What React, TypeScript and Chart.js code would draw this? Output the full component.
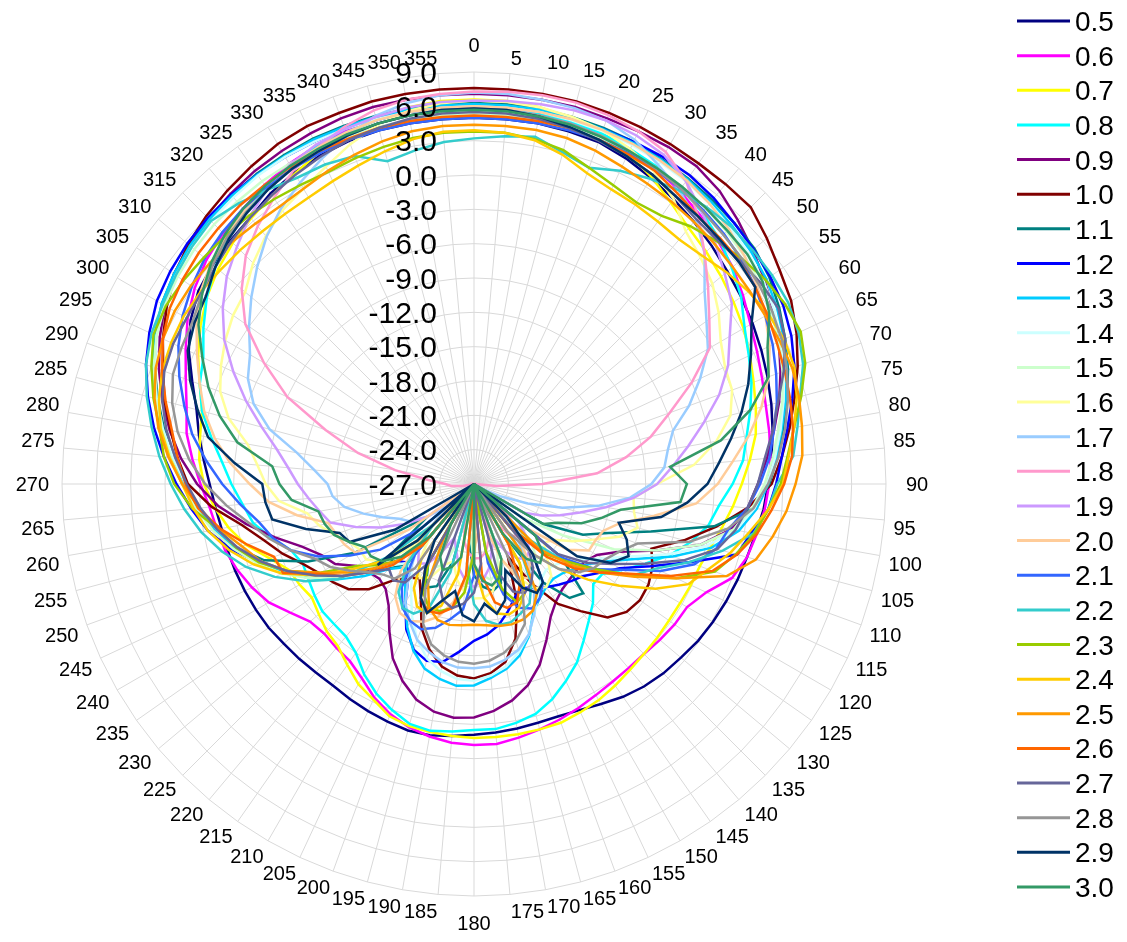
import React, { useEffect, useRef } from 'react';
import { Chart, registerables } from 'chart.js';

Chart.register(...registerables);

const angleLabels = ['0','5','10','15','20','25','30','35','40','45','50','55','60','65','70','75','80','85','90','95','100','105','110','115','120','125','130','135','140','145','150','155','160','165','170','175','180','185','190','195','200','205','210','215','220','225','230','235','240','245','250','255','260','265','270','275','280','285','290','295','300','305','310','315','320','325','330','335','340','345','350','355'];

const tickValues = [-27, -24, -21, -18, -15, -12, -9, -6, -3, 0, 3, 6, 9];

const seriesNames = ['0.5','0.6','0.7','0.8','0.9','1.0','1.1','1.2','1.3','1.4','1.5','1.6','1.7','1.8','1.9','2.0','2.1','2.2','2.3','2.4','2.5','2.6','2.7','2.8','2.9','3.0'];

const seriesColors = ['#000080','#FF00FF','#FFFF00','#00FFFF','#800080','#800000','#008080','#0000FF','#00CCFF','#CCFFFF','#CCFFCC','#FFFF99','#99CCFF','#FF99CC','#CC99FF','#FFCC99','#3366FF','#33CCCC','#99CC00','#FFCC00','#FF9900','#FF6600','#666699','#969696','#003366','#339966'];

const s05 = [5.0,5.0,5.0,4.9,4.8,4.4,3.9,3.4,2.9,2.4,1.9,1.5,
 1.1,0.7,0.3,-0.1,-0.5,-0.9,-1.3,-1.6,-2.0,-2.3,-2.5,-2.7,
 -2.9,-3.1,-3.4,-3.6,-3.9,-4.3,-4.8,-5.2,-5.4,-5.4,-5.3,-5.2,
 -5.1,-4.9,-4.7,-4.7,-4.9,-5.1,-5.3,-5.5,-5.5,-5.4,-5.3,-5.1,
 -5.0,-4.9,-4.8,-4.7,-4.6,-4.3,-3.9,-3.3,-2.6,-1.9,-0.8,0.5,
 1.6,2.4,2.8,3.1,3.4,4.0,4.4,4.7,4.9,5.0,5.0,5.0];
const s06 = [6.0,6.0,5.9,5.8,5.6,5.2,4.8,4.3,3.7,3.1,2.5,1.7,
 0.9,0.3,-0.2,-0.6,-0.8,-1.0,-1.2,-1.5,-1.9,-2.3,-3.0,-4.6,
 -5.5,-5.6,-5.8,-6.0,-6.0,-5.9,-5.7,-5.4,-5.1,-4.8,-4.5,-4.2,
 -4.2,-4.3,-4.6,-5.0,-5.6,-6.4,-7.4,-8.1,-8.3,-8.5,-8.3,-7.4,
 -6.3,-5.6,-5.0,-4.5,-4.2,-3.8,-3.1,-2.3,-1.5,-1.0,-0.2,0.8,
 1.9,2.8,3.5,4.0,4.4,4.9,5.3,5.6,5.8,5.9,6.0,6.0];
const s07 = [6.6,6.6,6.4,6.1,5.6,4.9,4.0,3.0,2.2,1.7,1.2,0.7,
 0.2,-0.4,-1.0,-1.5,-2.0,-2.8,-3.6,-4.3,-5.0,-5.6,-6.0,-6.1,
 -6.2,-6.2,-6.1,-6.0,-5.8,-5.5,-5.2,-5.0,-4.8,-4.8,-4.8,-4.8,
 -4.8,-4.9,-5.0,-5.1,-5.4,-6.2,-6.8,-7.7,-8.5,-8.8,-9.3,-9.7,
 -9.4,-9.2,-8.0,-6.4,-5.2,-4.2,-3.4,-2.9,-2.7,-2.4,-1.5,-0.4,
 0.6,1.5,2.2,2.8,3.3,3.8,4.3,5.0,5.6,6.1,6.4,6.6];
const s08 = [6.0,6.0,5.9,5.8,5.6,5.3,5.0,4.6,4.0,3.3,2.4,1.5,
 0.3,-0.5,-1.2,-2.0,-2.8,-3.4,-4.4,-5.5,-6.2,-7.4,-8.8,-10.5,
 -12.0,-13.3,-13.4,-12.3,-11.4,-10.3,-9.0,-8.0,-7.0,-6.2,-5.8,-5.5,
 -5.5,-5.3,-5.1,-5.3,-6.0,-6.8,-7.8,-9.0,-9.6,-9.7,-9.7,-10.0,
 -10.3,-10.5,-10.0,-8.7,-7.4,-6.7,-5.8,-4.9,-3.7,-2.4,-1.5,-0.9,
 0.3,1.5,2.5,3.4,4.0,4.6,5.1,5.5,5.7,5.9,6.0,6.0];
const s09 = [7.1,7.1,7.1,7.1,7.0,7.0,7.0,6.9,6.4,5.6,4.8,4.0,
 3.2,2.4,1.5,0.6,-0.4,-1.3,-2.2,-3.0,-4.2,-6.5,-10.0,-13.0,
 -14.6,-15.2,-15.3,-15.2,-15.0,-14.5,-13.6,-12.0,-10.2,-8.8,-7.8,-7.1,
 -6.6,-6.5,-6.8,-7.5,-8.7,-10.2,-12.2,-14.0,-15.0,-15.3,-15.0,-14.5,
 -13.0,-12.3,-11.0,-9.0,-6.8,-4.6,-2.8,-1.3,0.0,1.2,2.3,3.3,
 4.2,5.0,5.5,5.8,6.1,6.4,6.6,6.8,7.0,7.1,7.1,7.1];
const s10 = [7.6,7.6,7.6,7.6,7.5,7.4,7.3,7.2,7.2,7.2,6.4,5.6,
 5.0,4.1,3.1,2.0,1.0,0.0,-1.0,-3.0,-5.5,-8.0,-10.5,-9.8,
 -9.4,-9.3,-9.6,-10.5,-12.5,-14.2,-17.0,-20.0,-16.0,-13.0,-11.2,-10.4,
 -10.0,-10.2,-10.8,-12.0,-13.6,-16.0,-17.5,-17.0,-16.0,-14.0,-12.7,-12.0,
 -11.4,-10.5,-9.2,-8.0,-6.4,-4.0,-2.0,-1.0,-0.1,1.0,1.9,3.0,
 4.0,4.9,5.6,6.1,6.5,6.9,7.3,7.5,7.5,7.6,7.6,7.6];
const s11 = [6.3,6.3,6.3,6.2,6.1,6.0,5.8,5.6,5.4,5.2,5.0,4.5,
 3.8,3.0,2.2,1.3,0.4,-0.4,-1.2,-2.5,-5.7,-11.0,-14.5,-16.5,
 -20.0,-27.0,-17.0,-13.5,-14.0,-16.5,-22.0,-27.0,-20.0,-18.0,-17.5,-18.0,
 -19.0,-22.0,-27.0,-20.0,-17.5,-17.0,-19.0,-27.0,-18.0,-16.5,-18.0,-22.0,
 -15.0,-11.0,-7.5,-5.5,-4.0,-2.8,-1.6,-0.6,0.5,1.6,2.7,3.7,
 4.5,5.0,5.4,5.7,5.9,6.1,6.2,6.3,6.3,6.3,6.3,6.3];
const s12 = [6.0,6.0,6.0,6.0,6.0,6.0,6.0,5.9,5.6,5.2,4.9,4.6,
 4.2,3.6,2.8,1.8,0.8,0.0,-0.6,-1.2,-2.4,-3.2,-7.0,-10.0,
 -12.3,-13.5,-14.5,-15.0,-15.5,-16.0,-16.5,-17.0,-16.5,-15.5,-14.5,-13.8,
 -13.3,-12.3,-11.2,-11.0,-11.6,-13.0,-15.0,-17.0,-18.0,-17.5,-15.5,-13.0,
 -10.9,-9.0,-7.0,-5.0,-3.4,-2.2,-1.0,0.2,1.4,2.5,3.5,4.3,
 5.0,5.4,5.7,5.9,6.0,6.0,6.0,6.0,6.0,6.0,6.0,6.0];
const s13 = [6.2,6.2,6.2,6.1,6.0,5.9,5.7,5.5,5.2,4.9,4.6,4.2,
 3.6,2.9,2.1,1.2,0.3,-0.5,-1.3,-2.2,-3.5,-5.5,-8.5,-11.5,
 -13.5,-14.8,-15.5,-16.0,-16.2,-16.0,-15.5,-14.7,-12.9,-11.5,-10.6,-10.0,
 -9.4,-9.3,-9.7,-10.3,-11.5,-13.2,-15.0,-16.5,-17.5,-16.5,-14.5,-12.5,
 -10.5,-8.8,-7.0,-5.4,-4.0,-2.8,-1.6,-0.4,0.8,1.9,2.9,3.8,
 4.5,5.0,5.4,5.7,5.9,6.0,6.1,6.2,6.2,6.2,6.2,6.2];
const s14 = [6.0,6.0,6.0,5.9,5.8,5.7,5.5,5.3,5.0,4.7,4.3,3.9,
 3.3,2.6,1.8,1.0,0.2,-0.6,-1.4,-2.4,-3.8,-6.0,-9.0,-12.0,
 -14.0,-15.5,-16.5,-17.0,-17.2,-16.8,-15.8,-14.5,-13.0,-11.8,-10.8,-10.2,
 -9.8,-9.9,-10.4,-11.2,-12.5,-14.2,-16.0,-17.5,-18.0,-17.0,-15.0,-12.8,
 -10.8,-9.0,-7.2,-5.6,-4.2,-3.0,-1.8,-0.6,0.6,1.7,2.7,3.6,
 4.3,4.8,5.2,5.5,5.7,5.9,6.0,6.0,6.0,6.0,6.0,6.0];
const s15 = [5.3,5.3,5.3,5.2,5.1,5.0,4.9,4.7,4.5,4.2,3.9,3.5,
 3.0,2.4,1.7,0.9,0.0,-0.8,-1.6,-2.6,-4.0,-6.5,-10.0,-13.5,
 -18.0,-22.0,-27.0,-20.0,-18.5,-19.0,-22.0,-27.0,-21.0,-19.0,-18.5,-19.0,
 -20.0,-23.0,-27.0,-22.0,-19.5,-19.0,-21.0,-25.0,-27.0,-20.0,-16.0,-13.0,
 -10.5,-8.5,-6.8,-5.2,-3.8,-2.6,-1.5,-0.4,0.7,1.8,2.8,3.6,
 4.2,4.6,4.9,5.1,5.2,5.3,5.3,5.3,5.3,5.3,5.3,5.3];
const s16 = [6.5,6.5,6.4,6.2,5.9,5.3,4.5,3.4,1.8,1.0,0.2,-0.9,
 -2.1,-2.8,-3.0,-3.8,-5.5,-7.7,-11.0,-13.0,-12.8,-12.2,-13.5,-15.5,
 -17.0,-18.5,-19.0,-18.0,-16.5,-16.0,-16.5,-18.0,-20.0,-19.0,-17.5,-17.0,
 -17.0,-17.5,-18.5,-20.0,-19.5,-18.0,-17.5,-18.5,-21.0,-19.0,-16.5,-15.5,
 -15.5,-15.0,-14.0,-13.0,-12.2,-9.9,-8.8,-8.0,-6.9,-4.8,-3.4,-2.6,
 -1.9,-1.3,-0.9,0.3,1.3,2.2,2.8,3.6,4.6,5.5,6.1,6.4];
const s17 = [7.2,7.2,7.1,7.0,6.8,6.2,5.2,4.3,3.2,1.5,-0.7,-2.2,
 -3.4,-5.2,-7.0,-9.0,-9.8,-10.3,-11.5,-13.3,-16.0,-19.0,-22.0,-24.5,
 -26.0,-27.0,-26.0,-24.0,-21.5,-19.0,-16.5,-14.5,-13.0,-12.0,-11.4,-11.0,
 -10.9,-10.9,-11.2,-11.8,-12.5,-13.7,-15.0,-17.0,-19.0,-21.5,-24.0,-22.0,
 -20.5,-19.8,-18.5,-17.0,-15.5,-14.6,-14.2,-13.0,-11.3,-8.5,-6.5,-5.2,
 -4.4,-3.0,-1.6,-0.2,1.2,2.4,3.4,4.4,5.4,6.3,6.8,7.1];
const s18 = [7.3,7.4,7.5,7.5,7.3,7.0,6.5,5.3,3.5,1.5,-0.3,-1.9,
 -3.2,-6.0,-8.8,-11.0,-13.5,-16.2,-21.0,-25.0,-27.0,-27.0,-27.0,-27.0,
 -27.0,-26.0,-24.0,-22.0,-21.0,-21.5,-23.0,-25.0,-24.0,-22.0,-21.0,-20.5,
 -20.5,-21.0,-22.0,-24.0,-26.0,-27.0,-26.0,-25.0,-26.0,-27.0,-27.0,-27.0,
 -27.0,-27.0,-27.0,-27.0,-26.0,-25.0,-24.5,-23.0,-20.0,-16.5,-13.2,-9.0,
 -5.8,-2.6,-0.5,1.2,2.4,3.5,4.6,5.4,6.2,6.8,7.1,7.2];
const s19 = [6.5,6.6,6.7,6.8,6.8,6.6,6.2,5.3,4.0,2.8,1.6,0.5,
 -1.2,-2.5,-4.2,-6.2,-8.0,-9.6,-11.0,-13.0,-15.3,-17.4,-19.0,-20.5,
 -22.0,-27.0,-22.0,-20.5,-19.5,-19.0,-19.5,-20.5,-22.0,-21.0,-19.5,-18.5,
 -18.0,-18.5,-19.5,-21.0,-22.0,-20.5,-19.0,-18.5,-19.5,-21.5,-27.0,-22.0,
 -20.0,-18.0,-16.0,-14.0,-13.3,-12.5,-11.6,-10.7,-9.5,-7.8,-5.8,-3.8,
 -1.8,-0.2,1.2,2.3,3.5,4.5,5.2,5.7,6.0,6.2,6.4,6.5];
const s20 = [6.0,6.0,6.0,6.0,5.9,5.8,5.6,5.4,5.0,4.5,3.9,3.2,
 2.4,1.5,0.4,-1.0,-2.6,-4.3,-5.7,-7.5,-11.0,-13.8,-15.0,-15.3,
 -15.4,-17.0,-21.0,-27.0,-21.0,-18.5,-17.5,-18.0,-20.0,-23.0,-27.0,-23.0,
 -21.0,-18.5,-16.5,-15.0,-14.2,-13.8,-14.0,-15.0,-17.0,-21.0,-27.0,-20.0,
 -15.0,-14.5,-14.2,-13.8,-11.3,-9.0,-7.4,-5.6,-4.0,-2.6,-1.5,-0.3,
 1.0,2.2,3.0,3.6,4.2,4.7,5.1,5.4,5.7,5.9,6.0,6.0];
const s21 = [5.0,5.0,5.0,5.0,5.0,4.9,4.7,4.5,4.2,3.9,3.5,3.0,
 2.4,1.8,1.1,0.4,-0.4,-1.1,-2.0,-3.0,-4.4,-5.1,-6.5,-9.0,
 -12.0,-14.0,-17.0,-27.0,-19.0,-16.5,-15.5,-15.0,-15.5,-17.0,-20.0,-27.0,
 -19.0,-16.0,-15.0,-14.0,-13.5,-13.8,-14.5,-16.0,-19.0,-27.0,-21.0,-17.0,
 -14.5,-12.0,-10.0,-8.8,-7.9,-6.5,-5.0,-3.5,-2.0,-0.8,0.4,1.5,
 2.4,3.1,3.7,4.1,4.4,4.6,4.8,4.9,5.0,5.0,5.0,5.0];
const s22 = [3.2,3.5,3.8,3.0,2.4,3.2,3.8,4.3,4.6,4.8,4.8,4.8,
 4.7,4.3,3.6,2.5,1.7,1.0,-0.5,-1.2,-2.2,-4.5,-7.0,-9.5,
 -11.0,-13.5,-16.0,-20.0,-27.0,-20.0,-17.0,-15.5,-15.0,-14.5,-14.5,-15.0,
 -16.5,-20.0,-27.0,-19.0,-15.5,-14.5,-14.5,-15.5,-18.0,-22.0,-17.0,-12.5,
 -10.0,-7.8,-5.8,-4.2,-2.8,-1.6,-0.5,0.6,1.6,2.6,3.5,4.1,
 4.4,4.8,5.2,5.5,5.0,4.4,3.9,3.8,3.5,2.2,2.6,3.0];
const s23 = [3.8,3.8,3.6,3.2,2.4,1.8,1.4,1.6,2.4,3.0,3.6,4.1,
 4.4,4.5,3.8,2.6,1.4,0.5,-0.2,-1.2,-2.1,-3.3,-4.6,-7.5,
 -11.0,-14.0,-16.5,-18.5,-22.0,-27.0,-19.0,-16.5,-16.0,-17.5,-21.0,-27.0,
 -21.0,-17.5,-16.0,-15.5,-15.5,-16.5,-19.0,-27.0,-20.0,-17.5,-16.0,-14.5,
 -11.5,-9.0,-7.0,-5.5,-4.3,-2.3,-0.8,0.2,0.9,2.0,3.0,3.9,
 4.1,4.0,3.8,3.7,3.6,3.4,3.2,3.1,3.3,3.5,3.7,3.8];
const s24 = [3.9,3.8,3.5,2.8,1.9,1.4,1.2,1.0,0.9,1.2,1.8,2.3,
 2.7,2.9,2.8,2.2,1.4,0.6,0.0,-1.2,-2.6,-3.8,-5.2,-6.3,
 -8.7,-11.5,-14.0,-16.5,-19.0,-27.0,-19.0,-16.5,-15.5,-15.2,-15.5,-17.0,
 -20.0,-27.0,-19.0,-16.0,-15.0,-15.2,-16.5,-19.0,-27.0,-20.0,-16.5,-14.0,
 -11.0,-8.5,-6.5,-4.8,-3.4,-2.4,-1.5,-0.3,0.8,1.5,2.0,2.2,
 2.3,2.2,2.0,1.9,1.8,1.8,1.9,2.2,2.6,3.1,3.6,3.9];
const s25 = [4.4,4.4,4.4,4.3,4.0,3.6,3.3,3.1,2.9,2.7,2.5,2.4,
 2.4,2.5,2.6,2.4,2.1,1.8,1.1,0.4,-0.5,-1.5,-3.5,-7.5,
 -10.8,-13.5,-16.0,-19.0,-27.0,-20.0,-16.0,-14.8,-14.4,-14.3,-14.4,-14.6,
 -14.7,-14.6,-14.5,-14.7,-15.5,-17.5,-22.0,-27.0,-21.0,-17.5,-15.5,-13.5,
 -11.5,-9.0,-7.2,-6.0,-4.4,-2.9,-1.5,-0.2,1.0,1.9,2.6,3.0,
 3.2,3.2,3.1,2.9,2.7,2.6,2.8,3.2,3.6,4.0,4.3,4.4];
const s26 = [5.2,5.2,5.2,5.2,5.0,4.8,4.6,4.0,3.5,3.4,3.3,3.0,
 2.6,2.2,1.9,1.6,1.3,0.9,0.1,-0.9,-1.9,-3.2,-4.8,-8.0,
 -11.3,-13.5,-15.5,-18.0,-22.0,-27.0,-21.0,-17.5,-16.0,-15.8,-16.5,-19.0,
 -27.0,-19.0,-16.0,-15.3,-15.2,-16.0,-18.5,-27.0,-20.0,-17.0,-15.0,-13.0,
 -11.3,-8.6,-8.4,-6.5,-4.5,-2.8,-1.8,-1.0,-0.2,0.9,2.0,3.0,
 3.7,4.1,4.4,4.6,4.8,4.9,5.0,5.1,5.1,5.2,5.2,5.2];
const s27 = [5.5,5.5,5.4,5.2,4.9,4.6,4.2,3.7,3.2,3.1,3.3,3.6,
 3.7,3.0,1.8,0.5,-0.5,-1.5,-2.2,-3.0,-3.8,-5.0,-7.5,-10.5,
 -13.0,-15.0,-17.5,-27.0,-19.5,-18.0,-17.0,-16.5,-17.0,-19.0,-27.0,-20.0,
 -17.5,-16.5,-16.0,-16.5,-18.0,-27.0,-19.0,-16.5,-16.0,-16.5,-15.0,-13.0,
 -11.0,-9.0,-7.2,-5.6,-4.2,-3.0,-1.9,-0.8,0.3,1.2,1.8,2.0,
 2.0,2.1,2.5,3.0,3.4,3.8,4.2,4.6,5.0,5.2,5.4,5.5];
const s28 = [5.8,5.8,5.7,5.6,5.4,5.1,4.8,4.5,4.1,3.8,3.6,3.4,
 3.1,2.7,2.1,1.4,0.6,-0.3,-1.3,-2.5,-4.5,-7.5,-11.8,-13.0,
 -13.8,-14.2,-15.0,-16.5,-19.0,-22.0,-27.0,-17.0,-14.0,-12.8,-12.0,-11.5,
 -11.3,-11.4,-11.8,-12.5,-14.0,-17.0,-27.0,-18.0,-16.2,-15.8,-15.0,-13.8,
 -12.5,-11.6,-10.0,-8.5,-7.1,-5.3,-3.5,-2.0,-0.7,0.3,1.0,1.2,
 1.4,2.0,2.8,3.5,4.0,4.4,4.8,5.1,5.4,5.6,5.7,5.8];
const s29 = [5.8,5.8,5.6,5.3,5.0,4.6,4.2,3.7,3.5,3.3,3.2,3.0,
 1.0,-0.3,-1.5,-2.8,-4.2,-5.5,-6.6,-8.3,-10.4,-13.9,-12.8,-12.1,
 -13.2,-16.0,-27.0,-23.0,-19.0,-16.5,-16.0,-17.0,-19.0,-16.5,-15.5,-16.5,
 -15.0,-15.5,-17.5,-16.5,-15.0,-16.0,-18.5,-21.0,-27.0,-20.0,-16.0,-27.0,
 -19.0,-15.0,-14.5,-11.8,-9.1,-8.7,-8.5,-6.0,-3.4,-2.0,-0.6,0.6,
 1.2,1.6,2.5,3.3,3.9,4.4,4.8,5.1,5.4,5.6,5.7,5.8];
const s30 = [5.7,5.7,5.6,5.5,5.3,5.1,4.9,4.7,4.5,4.3,4.2,3.8,
 2.8,1.3,0.4,-2.0,-5.1,-9.8,-8.4,-8.9,-14.0,-15.5,-17.0,-19.0,
 -20.0,-27.0,-20.0,-18.5,-18.0,-19.0,-22.0,-27.0,-20.0,-18.5,-18.0,-18.5,
 -20.0,-27.0,-20.5,-19.5,-19.0,-20.0,-23.0,-27.0,-21.0,-18.0,-16.5,-16.0,
 -16.0,-15.0,-14.0,-13.5,-13.2,-11.0,-10.0,-9.3,-6.0,-4.0,-2.3,-0.8,
 0.8,2.0,3.0,3.8,4.4,4.8,5.1,5.3,5.5,5.6,5.7,5.7];

const seriesValues = [s05, s06, s07, s08, s09, s10, s11, s12, s13, s14, s15, s16, s17, s18, s19, s20, s21, s22, s23, s24, s25, s26, s27, s28, s29, s30];

const FONT = '"Liberation Sans", Arial, Helvetica, sans-serif';

const overlayPlugin = {
  id: 'overlayText',
  afterDraw(chart: any) {
    const ctx = chart.ctx;
    const scale = chart.scales.r;
    ctx.save();
    ctx.fillStyle = '#000000';

    // angle (category) labels around the circle, anchored like Excel
    const plSize = 20;
    const capH = plSize * 0.716;
    ctx.font = `${plSize}px ${FONT}`;
    ctx.textBaseline = 'alphabetic';
    angleLabels.forEach((lab, i) => {
      const deg = Math.round((scale.getIndexAngle(i) * 180) / Math.PI) % 360;
      const onAxis = deg % 90 === 0;
      const dist = scale.drawingArea + (onAxis ? (deg === 270 ? 13 : 20) : 9);
      const p = scale.getPointPosition(i, dist);
      let align: CanvasTextAlign = 'left';
      if (deg === 0 || deg === 180) align = 'center';
      else if (deg > 180) align = 'right';
      ctx.textAlign = align;
      let baseY;
      if (deg === 90 || deg === 270) baseY = p.y + capH / 2;
      else if (deg < 90 || deg > 270) baseY = p.y;
      else baseY = p.y + capH;
      ctx.fillText(lab, p.x, baseY);
    });

    // value tick labels, left of the vertical axis
    const tkSize = 30;
    ctx.font = `${tkSize}px ${FONT}`;
    ctx.textAlign = 'right';
    tickValues.forEach((v) => {
      const y = scale.yCenter - scale.getDistanceFromCenterForValue(v);
      ctx.fillText(v.toFixed(1), scale.xCenter - 37, y + tkSize * 0.358);
    });

    // legend
    const lgSize = 28;
    ctx.font = `${lgSize}px ${FONT}`;
    ctx.textAlign = 'left';
    seriesNames.forEach((name, i) => {
      const y = 21 + i * 34.64;
      ctx.strokeStyle = seriesColors[i];
      ctx.lineWidth = 3;
      ctx.beginPath();
      ctx.moveTo(1017, y);
      ctx.lineTo(1070, y);
      ctx.stroke();
      ctx.fillStyle = '#000000';
      ctx.fillText(name, 1075, y + lgSize * 0.358);
    });
    ctx.restore();
  },
};

export default function App() {
  const canvasRef = useRef<HTMLCanvasElement | null>(null);

  useEffect(() => {
    if (!canvasRef.current) return;
    const n = seriesNames.length;
    const chart = new Chart(canvasRef.current, {
      type: 'radar',
      data: {
        labels: angleLabels,
        datasets: seriesNames.map((name, i) => ({
          label: name,
          data: seriesValues[i],
          borderColor: seriesColors[i],
          backgroundColor: seriesColors[i],
          borderWidth: 2.5,
          pointRadius: 0,
          pointHoverRadius: 0,
          fill: false,
          tension: 0,
          order: n - i,
        })),
      },
      options: {
        responsive: false,
        animation: false,
        devicePixelRatio: 1,
        layout: { padding: { left: 62, top: 72, right: 241, bottom: 46 } },
        plugins: {
          legend: { display: false },
          tooltip: { enabled: false },
        },
        scales: {
          r: {
            min: -27,
            max: 9,
            startAngle: 0,
            ticks: { display: false, stepSize: 3 },
            pointLabels: { display: false },
            grid: { color: '#d9d9d9', lineWidth: 1, circular: false },
            angleLines: { display: true, color: '#d9d9d9', lineWidth: 1 },
          },
        },
      },
      plugins: [overlayPlugin],
    } as any);
    return () => chart.destroy();
  }, []);

  return (
    <div style={{ position: 'absolute', left: 0, top: 0, width: 1127, height: 942, background: '#ffffff' }}>
      <canvas ref={canvasRef} width={1127} height={942} style={{ display: 'block' }} />
    </div>
  );
}
